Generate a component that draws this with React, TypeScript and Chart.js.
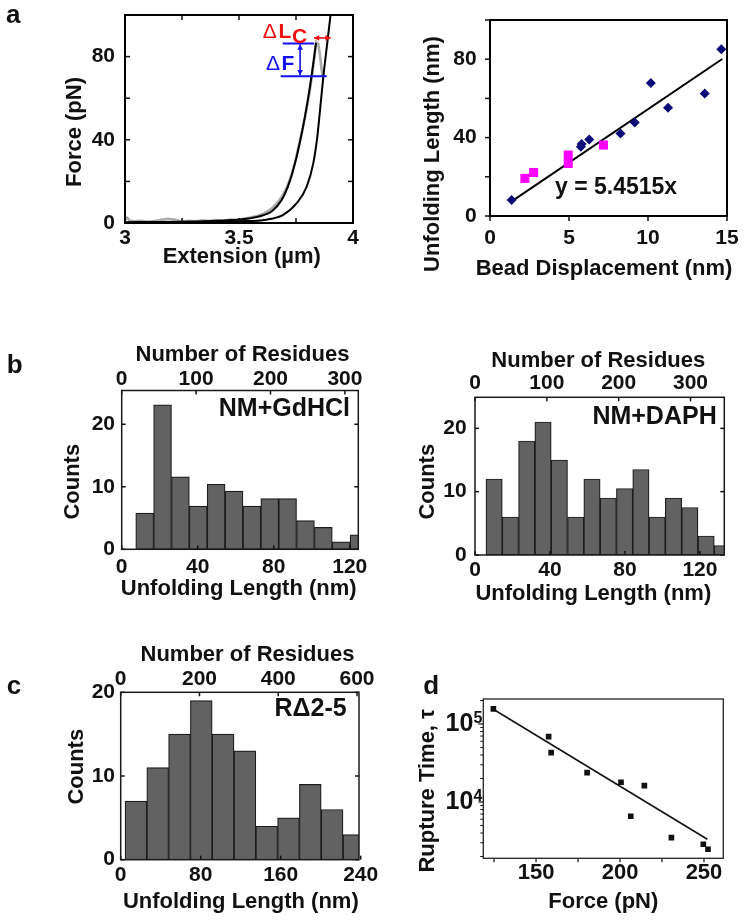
import React, { useEffect, useRef } from 'react';
import { Chart, registerables } from 'chart.js';

Chart.register(...registerables);

const FAMILY = '"Liberation Sans", Arial, Helvetica, sans-serif';
const INK = '#111111';

// ---------------- panel a (left): force vs extension ----------------
const extensionTicks = [3, 3.5, 4];
const extensionMarks = [3, 3.25, 3.5, 3.75, 4];
const forceTicks = [0, 40, 80];
const forceMarks = [0, 20, 40, 60, 80, 100];
const traceExt = [3.0, 3.01, 3.02, 3.04, 3.07, 3.1, 3.13, 3.16, 3.19, 3.22, 3.25, 3.28, 3.31, 3.34, 3.37, 3.4, 3.43, 3.46, 3.49, 3.52, 3.55, 3.58, 3.61, 3.63, 3.65, 3.67, 3.69, 3.71, 3.73, 3.75, 3.77, 3.79, 3.81, 3.825, 3.838, 3.848, 3.856, 3.862, 3.868];
const traceForce = [1.8, 2.5, 1.2, 0.8, 1.0, 0.6, 0.9, 1.6, 2.0, 1.5, 0.7, 1.1, 0.8, 1.3, 0.9, 1.4, 1.0, 1.6, 1.2, 2.0, 2.6, 3.4, 4.6, 6.0, 7.5, 10, 13, 17, 23, 31, 41, 51, 63, 75, 87, 86, 80, 74, 70.5];
const wlcShortExt = [3.0, 3.2, 3.35, 3.45, 3.55, 3.6, 3.643, 3.687, 3.724, 3.753, 3.776, 3.8, 3.82, 3.838];
const wlcShortForce = [0.4, 0.5, 0.8, 1.3, 2.3, 3.5, 5.5, 11, 20.5, 32, 43.5, 58, 72, 86.6];
const wlcLongExt = [3.0, 3.2, 3.35, 3.5, 3.62, 3.694, 3.753, 3.797, 3.826, 3.843, 3.856, 3.87, 3.886, 3.902];
const wlcLongForce = [0.1, 0.2, 0.4, 0.8, 1.6, 3.9, 9.5, 17.5, 28.8, 41, 55, 70.5, 85.5, 100.5];
const deltaFLevels = [86.3, 70.5];
const deltaFTopSpan = [3.692, 3.829];
const deltaFBottomSpan = [3.683, 3.885];
const deltaFArrowExt = 3.768;
const deltaLcSpan = [3.829, 3.902];
const deltaLcForce = 89;

// ---------------- panel a (right): unfolding length vs bead displacement ----------------
const dispTicks = [0, 5, 10, 15];
const lengthTicks = [0, 40, 80];
const lengthMarks = [0, 20, 40, 60, 80, 100];
const navyDisp = [1.37, 5.75, 5.8, 6.28, 8.26, 9.16, 10.18, 11.27, 13.59, 14.64];
const navyLength = [8.2, 35.3, 36.7, 39, 42.1, 47.7, 67.9, 55.2, 62.5, 85.1];
const pinkDisp = [2.21, 2.76, 4.95, 4.95, 7.18];
const pinkLength = [19.2, 22.2, 31.1, 26.8, 36.2];
const fitDisp = [1.3, 14.7];
const fitLength = [7.1, 80.1];

// ---------------- panel b: histograms ----------------
const nmTicksB = [0, 40, 80, 120];
const residueTicksB = [0, 100, 200, 300];
const countTicksB = [0, 10, 20];
const gdhclCenters = [12.1, 21.5, 30.9, 40.3, 49.7, 59.1, 68.5, 77.9, 87.3, 96.7, 106.1, 115.5, 124.9];
const gdhclCounts = [5.8, 23.1, 11.6, 6.9, 10.4, 9.3, 6.9, 8.1, 8.1, 4.6, 3.5, 1.2, 2.3];
const daphCenters = [10.2, 18.9, 27.6, 36.3, 45.0, 53.7, 62.4, 71.1, 79.8, 88.5, 97.2, 105.9, 114.6, 123.3, 132.0];
const daphCounts = [12, 6, 18, 21, 15, 6, 12, 9, 10.5, 13.5, 6, 9, 7.5, 3, 1.5];

// ---------------- panel c: histogram ----------------
const nmTicksC = [0, 80, 160, 240];
const residueTicksC = [0, 200, 400, 600];
const countTicksC = [0, 10, 20];
const rdCenters = [15.2, 37, 58.8, 80.6, 102.4, 124.2, 146, 167.8, 189.6, 211.4, 233.2];
const rdCounts = [7, 11, 15, 19, 15, 13, 4, 5, 9, 6, 3];

// ---------------- panel d: rupture time vs force ----------------
const forceTicksD = [150, 200, 250];
const forceMarksD = [125, 150, 175, 200, 225, 250];
const tauTicks = [1e4, 1e5];
const tauExponents = ['4', '5'];
const tauMinor = [2e3, 3e3, 4e3, 5e3, 6e3, 7e3, 8e3, 9e3, 2e4, 3e4, 4e4, 5e4, 6e4, 7e4, 8e4, 9e4, 2e5];
const ruptureForce = [124.6, 157.5, 159, 180.4, 200.6, 214.5, 206.4, 230.6, 249.6, 252.4];
const ruptureTime = [1.56e5, 6.87e4, 4.29e4, 2.38e4, 1.79e4, 1.62e4, 6.56e3, 3.49e3, 2.87e3, 2.48e3];
const fitForceD = [125.3, 252];
const fitTimeD = [1.51e5, 3.33e3];

// ---------------- helpers ----------------
type Rect = [number, number, number, number];
const bold = (s: number) => `bold ${s}px ${FAMILY}`;
const plain = (s: number) => `${s}px ${FAMILY}`;
const pts = (xs: number[], ys: number[]) => xs.map((x, i) => ({ x, y: ys[i] }));

function pads(c: Rect, p: Rect) {
  return { l: p[0] - c[0], t: p[1] - c[1], r: c[2] - p[2], b: c[3] - p[3] };
}

function axis(o: any) {
  const horizontal = o.position === 'top' || o.position === 'bottom';
  return {
    type: o.type || 'linear',
    position: o.position,
    min: o.min,
    max: o.max,
    bounds: 'data',
    offset: false,
    grid: { display: false, drawTicks: false },
    border: { display: false },
    ticks: {
      display: o.labels !== false,
      padding: o.pad ?? 4,
      color: INK,
      font: { family: FAMILY, size: o.size ?? 21, weight: 'bold', lineHeight: 1 },
      maxRotation: 0,
      minRotation: 0,
      autoSkip: false,
      callback: (v: number) => String(v),
    },
    afterBuildTicks: (s: any) => {
      s.ticks = o.ticks.map((v: number) => ({ value: v }));
    },
    afterFit: (s: any) => {
      if (horizontal) s.height = o.thickness;
      else s.width = o.thickness;
      s.paddingLeft = 0;
      s.paddingRight = 0;
      s.paddingTop = 0;
      s.paddingBottom = 0;
    },
  };
}

function base(p: any, topPad: number) {
  return {
    responsive: false,
    animation: false,
    devicePixelRatio: 1,
    events: [],
    layout: { padding: { left: 0, top: topPad, right: p.r, bottom: 0 } },
    plugins: { legend: { display: false }, tooltip: { enabled: false } },
  };
}

function lineSet(xs: number[], ys: number[], color: string, width: number, smooth = true) {
  return {
    data: pts(xs, ys),
    showLine: true,
    borderColor: color,
    backgroundColor: color,
    borderWidth: width,
    pointRadius: 0,
    fill: false,
    tension: 0,
    cubicInterpolationMode: smooth ? 'monotone' : 'default',
  };
}

function barSet(centers: number[], counts: number[]) {
  return {
    data: pts(centers, counts),
    backgroundColor: '#626262',
    borderColor: '#1c1c1c',
    borderWidth: 1.2,
    borderSkipped: false,
    barPercentage: 1,
    categoryPercentage: 1,
    clip: 0,
  };
}

function arrowHead(ctx: CanvasRenderingContext2D, x: number, y: number, ang: number, size: number) {
  ctx.beginPath();
  ctx.moveTo(x, y);
  ctx.lineTo(x - size * Math.cos(ang - 0.5), y - size * Math.sin(ang - 0.5));
  ctx.lineTo(x - size * Math.cos(ang + 0.5), y - size * Math.sin(ang + 0.5));
  ctx.closePath();
  ctx.fill();
}

function doubleArrow(ctx: CanvasRenderingContext2D, x1: number, y1: number, x2: number, y2: number, size: number) {
  ctx.beginPath();
  ctx.moveTo(x1, y1);
  ctx.lineTo(x2, y2);
  ctx.stroke();
  const ang = Math.atan2(y2 - y1, x2 - x1);
  arrowHead(ctx, x2, y2, ang, size);
  arrowHead(ctx, x1, y1, ang + Math.PI, size);
}

function deco(canvas: Rect, spec: any) {
  const ox = canvas[0];
  const oy = canvas[1];
  return {
    id: 'deco',
    afterDatasetsDraw(chart: any) {
      const ctx: CanvasRenderingContext2D = chart.ctx;
      const a = chart.chartArea;
      ctx.save();
      (spec.ticks || []).forEach((t: any) => {
        const s = chart.scales[t.scale];
        ctx.strokeStyle = t.color || '#111';
        ctx.lineWidth = t.width || 1.5;
        const dir = t.out ? -1 : 1;
        t.values.forEach((v: number) => {
          const p = s.getPixelForValue(v);
          t.sides.forEach((side: string) => {
            ctx.beginPath();
            if (side === 'bottom') { ctx.moveTo(p, a.bottom); ctx.lineTo(p, a.bottom - dir * t.len); }
            if (side === 'top') { ctx.moveTo(p, a.top); ctx.lineTo(p, a.top + dir * t.len); }
            if (side === 'left') { ctx.moveTo(a.left, p); ctx.lineTo(a.left + dir * t.len, p); }
            if (side === 'right') { ctx.moveTo(a.right, p); ctx.lineTo(a.right - dir * t.len, p); }
            ctx.stroke();
          });
        });
      });
      if (spec.frame) {
        ctx.strokeStyle = spec.frame.color;
        ctx.lineWidth = spec.frame.width;
        ctx.strokeRect(a.left, a.top, a.right - a.left, a.bottom - a.top);
      }
      if (spec.extra) spec.extra(chart, ctx, ox, oy);
      ctx.restore();
    },
    afterDraw(chart: any) {
      const ctx: CanvasRenderingContext2D = chart.ctx;
      (spec.texts || []).forEach((t: any) => {
        ctx.save();
        ctx.font = t.font;
        ctx.fillStyle = t.color || INK;
        ctx.textAlign = t.align || 'center';
        ctx.textBaseline = t.baseline || 'middle';
        ctx.translate(t.x - ox, t.y - oy);
        if (t.rot) ctx.rotate(t.rot);
        ctx.fillText(t.text, 0, 0);
        ctx.restore();
      });
    },
  };
}

const VERT = -Math.PI / 2;
const RED = '#f01010';
const BLUE = '#1010f0';

// ---------------- panels ----------------
const a1Canvas: Rect = [0, 0, 400, 300];
const a1Plot: Rect = [125, 15, 353, 223];
function panelA1() {
  const p = pads(a1Canvas, a1Plot);
  return {
    type: 'scatter',
    data: {
      datasets: [
        lineSet(wlcShortExt, wlcShortForce, '#000', 2),
        lineSet(wlcLongExt, wlcLongForce, '#000', 2),
        lineSet(traceExt, traceForce, '#ababab', 2.6, false),
      ],
    },
    options: {
      ...base(p, p.t),
      scales: {
        x: axis({ position: 'bottom', min: 3, max: 4, ticks: extensionTicks, thickness: p.b, pad: 4.5 }),
        y: axis({ position: 'left', min: 0, max: 100, ticks: forceTicks, thickness: p.l, pad: 10 }),
      },
    },
    plugins: [
      deco(a1Canvas, {
        frame: { width: 2, color: '#000' },
        ticks: [
          { scale: 'y', values: forceMarks, sides: ['left', 'right'], len: 5 },
          { scale: 'x', values: extensionMarks, sides: ['bottom', 'top'], len: 5 },
        ],
        texts: [
          { text: 'a', x: 6, y: 22.7, font: bold(26), align: 'left', baseline: 'alphabetic' },
          { text: 'Force (pN)', x: 75, y: 132, font: bold(22), rot: VERT },
          { text: 'Extension (\u00b5m)', x: 241.7, y: 256.7, font: bold(22) },
          { text: '\u0394', x: 262.7, y: 38.3, font: plain(21), color: RED, align: 'left', baseline: 'alphabetic' },
          { text: 'L', x: 278.5, y: 38.3, font: bold(21), color: RED, align: 'left', baseline: 'alphabetic' },
          { text: 'C', x: 292, y: 42.5, font: bold(21), color: RED, align: 'left', baseline: 'alphabetic' },
          { text: '\u0394', x: 266, y: 70, font: plain(21), color: BLUE, align: 'left', baseline: 'alphabetic' },
          { text: 'F', x: 281.5, y: 70, font: bold(21), color: BLUE, align: 'left', baseline: 'alphabetic' },
        ],
        extra: (chart: any, ctx: CanvasRenderingContext2D) => {
          const X = (v: number) => chart.scales.x.getPixelForValue(v);
          const Y = (v: number) => chart.scales.y.getPixelForValue(v);
          ctx.strokeStyle = BLUE;
          ctx.fillStyle = BLUE;
          ctx.lineWidth = 2;
          ctx.beginPath();
          ctx.moveTo(X(deltaFTopSpan[0]), Y(deltaFLevels[0]));
          ctx.lineTo(X(deltaFTopSpan[1]), Y(deltaFLevels[0]));
          ctx.moveTo(X(deltaFBottomSpan[0]), Y(deltaFLevels[1]));
          ctx.lineTo(X(deltaFBottomSpan[1]), Y(deltaFLevels[1]));
          ctx.stroke();
          ctx.lineWidth = 1.6;
          doubleArrow(ctx, X(deltaFArrowExt), Y(deltaFLevels[0]) + 1, X(deltaFArrowExt), Y(deltaFLevels[1]) - 1, 6);
          ctx.strokeStyle = RED;
          ctx.fillStyle = RED;
          ctx.lineWidth = 1.6;
          doubleArrow(ctx, X(deltaLcSpan[0]), Y(deltaLcForce), X(deltaLcSpan[1]), Y(deltaLcForce), 6);
        },
      }),
    ],
  };
}

const a2Canvas: Rect = [360, 0, 751, 300];
const a2Plot: Rect = [490, 20, 727, 216];
function panelA2() {
  const p = pads(a2Canvas, a2Plot);
  return {
    type: 'scatter',
    data: {
      datasets: [
        { data: pts(navyDisp, navyLength), pointStyle: 'rectRot', pointRadius: 5, backgroundColor: '#0a0a78', borderColor: '#0a0a78', borderWidth: 0 },
        { data: pts(pinkDisp, pinkLength), pointStyle: 'rect', pointRadius: 6.4, backgroundColor: '#ff00ff', borderColor: '#ff00ff', borderWidth: 0 },
        lineSet(fitDisp, fitLength, '#000', 2, false),
      ],
    },
    options: {
      ...base(p, p.t),
      scales: {
        x: axis({ position: 'bottom', min: 0, max: 15, ticks: dispTicks, thickness: p.b, pad: 11.5 }),
        y: axis({ position: 'left', min: 0, max: 100, ticks: lengthTicks, thickness: p.l, pad: 13.3 }),
      },
    },
    plugins: [
      deco(a2Canvas, {
        frame: { width: 2, color: '#000' },
        ticks: [
          { scale: 'y', values: lengthMarks, sides: ['left'], len: 5, out: true },
          { scale: 'x', values: dispTicks, sides: ['bottom'], len: 5, out: true },
        ],
        texts: [
          { text: 'Unfolding Length (nm)', x: 433.3, y: 154, font: bold(22), rot: VERT },
          { text: 'Bead Displacement (nm)', x: 604, y: 269, font: bold(22) },
          { text: 'y = 5.4515x', x: 555, y: 188, font: bold(23), align: 'left' },
        ],
      }),
    ],
  };
}

function histPanel(canvas: Rect, plot: Rect, o: any) {
  const p = pads(canvas, plot);
  return {
    type: 'bar',
    data: { datasets: [barSet(o.centers, o.counts)] },
    options: {
      ...base(p, 0),
      scales: {
        x: axis({ position: 'bottom', min: 0, max: o.nmMax, ticks: o.nmTicks, thickness: p.b, pad: o.padBottom }),
        x2: axis({ position: 'top', min: 0, max: o.resMax, ticks: o.resTicks, thickness: p.t, pad: o.padTop }),
        y: axis({ position: 'left', min: 0, max: o.countMax, ticks: o.countTicks, thickness: p.l, pad: o.padLeft }),
      },
    },
    plugins: [
      deco(canvas, {
        frame: { width: 1.5, color: '#1a1a1a' },
        ticks: [
          { scale: 'y', values: o.countTicks, sides: ['left', 'right'], len: 4 },
          { scale: 'x', values: o.nmTicks, sides: ['bottom'], len: 4 },
          { scale: 'x2', values: o.resTicks, sides: ['top'], len: 4 },
        ],
        texts: o.texts,
      }),
    ],
  };
}

const b1Canvas: Rect = [0, 300, 400, 610];
const b1Plot: Rect = [121.7, 390.5, 358.3, 549.3];
function panelB1() {
  return histPanel(b1Canvas, b1Plot, {
    centers: gdhclCenters, counts: gdhclCounts,
    nmMax: 124.5, nmTicks: nmTicksB, resMax: 318, resTicks: residueTicksB,
    countMax: 25.4, countTicks: countTicksB,
    padBottom: 7.7, padTop: 0.5, padLeft: 6.7,
    texts: [
      { text: 'b', x: 6.7, y: 372.7, font: bold(26), align: 'left', baseline: 'alphabetic' },
      { text: 'Number of Residues', x: 242.5, y: 355, font: bold(22) },
      { text: 'Counts', x: 73, y: 481.7, font: bold(22), rot: VERT },
      { text: 'Unfolding Length (nm)', x: 238.7, y: 589, font: bold(22) },
      { text: 'NM+GdHCl', x: 350, y: 409, font: bold(25), align: 'right' },
    ],
  });
}

const b2Canvas: Rect = [360, 300, 751, 610];
const b2Plot: Rect = [475, 397.3, 724.3, 555];
function panelB2() {
  return histPanel(b2Canvas, b2Plot, {
    centers: daphCenters, counts: daphCounts,
    nmMax: 133, nmTicks: nmTicksB, resMax: 347, resTicks: residueTicksB,
    countMax: 24.9, countTicks: countTicksB,
    padBottom: 4.5, padTop: 3.5, padLeft: 8.3,
    texts: [
      { text: 'Number of Residues', x: 598.3, y: 361, font: bold(22) },
      { text: 'Counts', x: 428.3, y: 481.7, font: bold(22), rot: VERT },
      { text: 'Unfolding Length (nm)', x: 593.3, y: 594, font: bold(22) },
      { text: 'NM+DAPH', x: 716.7, y: 417.5, font: bold(25), align: 'right' },
    ],
  });
}

const cCanvas: Rect = [0, 610, 400, 920];
const cPlot: Rect = [120.7, 692.3, 359, 859.7];
function panelC() {
  return histPanel(cCanvas, cPlot, {
    centers: rdCenters, counts: rdCounts,
    nmMax: 238.3, nmTicks: nmTicksC, resMax: 605, resTicks: residueTicksC,
    countMax: 20, countTicks: countTicksC,
    padBottom: 4.8, padTop: 2.3, padLeft: 5.7,
    texts: [
      { text: 'c', x: 6.7, y: 694, font: bold(26), align: 'left', baseline: 'alphabetic' },
      { text: 'Number of Residues', x: 247.5, y: 655.3, font: bold(22) },
      { text: 'Counts', x: 76.7, y: 766.7, font: bold(22), rot: VERT },
      { text: 'Unfolding Length (nm)', x: 240.8, y: 902, font: bold(22) },
      { text: 'R\u03942-5', x: 346.7, y: 709, font: bold(25), align: 'right' },
    ],
  });
}

const dCanvas: Rect = [360, 610, 751, 920];
const dPlot: Rect = [483.3, 699, 723.3, 858.3];
function panelD() {
  const p = pads(dCanvas, dPlot);
  return {
    type: 'scatter',
    data: {
      datasets: [
        { data: pts(ruptureForce, ruptureTime), pointStyle: 'rect', pointRadius: 4, backgroundColor: '#111', borderColor: '#111', borderWidth: 0 },
        lineSet(fitForceD, fitTimeD, '#111', 1.5, false),
      ],
    },
    options: {
      ...base(p, p.t),
      scales: {
        x: axis({ position: 'bottom', min: 118.6, max: 261.5, ticks: forceTicksD, thickness: p.b, pad: 4, size: 22 }),
        y: axis({ type: 'logarithmic', position: 'left', min: 1897, max: 2.09e5, ticks: tauTicks, thickness: p.l, labels: false }),
      },
    },
    plugins: [
      deco(dCanvas, {
        frame: { width: 1.3, color: '#222' },
        ticks: [
          { scale: 'x', values: forceMarksD, sides: ['bottom'], len: 4, out: true, width: 1.2 },
          { scale: 'y', values: tauTicks, sides: ['left'], len: 5, out: true, width: 1.2 },
          { scale: 'y', values: tauMinor, sides: ['left'], len: 3, out: true, width: 1 },
        ],
        texts: [
          { text: 'd', x: 423.3, y: 694, font: bold(26), align: 'left', baseline: 'alphabetic' },
          { text: 'Rupture Time, \u03c4', x: 427.5, y: 790.8, font: bold(22), rot: VERT },
          { text: 'Force (pN)', x: 603.3, y: 901.7, font: bold(22) },
        ],
        extra: (chart: any, ctx: CanvasRenderingContext2D, ox: number) => {
          const ys = chart.scales.y;
          tauTicks.forEach((v, i) => {
            const py = ys.getPixelForValue(v);
            ctx.fillStyle = INK;
            ctx.font = bold(25);
            ctx.textAlign = 'right';
            ctx.textBaseline = 'middle';
            ctx.fillText('10', 473.3 - ox, py);
            ctx.font = bold(16);
            ctx.textAlign = 'left';
            ctx.fillText(tauExponents[i], 473.5 - ox, py - 5.5);
          });
        },
      }),
    ],
  };
}

const panels: { rect: Rect; make: () => any }[] = [
  { rect: a1Canvas, make: panelA1 },
  { rect: a2Canvas, make: panelA2 },
  { rect: b1Canvas, make: panelB1 },
  { rect: b2Canvas, make: panelB2 },
  { rect: cCanvas, make: panelC },
  { rect: dCanvas, make: panelD },
];

function ChartCanvas({ rect, make }: { rect: Rect; make: () => any }) {
  const ref = useRef<HTMLCanvasElement>(null);
  useEffect(() => {
    const chart = new Chart(ref.current as HTMLCanvasElement, make());
    return () => chart.destroy();
  }, []);
  const w = rect[2] - rect[0];
  const h = rect[3] - rect[1];
  return (
    <canvas
      ref={ref}
      width={w}
      height={h}
      style={{ position: 'absolute', left: rect[0], top: rect[1], width: w, height: h }}
    />
  );
}

export default function App() {
  return (
    <div style={{ position: 'absolute', left: 0, top: 0, width: 751, height: 920, background: '#fff', overflow: 'hidden' }}>
      {panels.map((p, i) => (
        <ChartCanvas key={i} rect={p.rect} make={p.make} />
      ))}
    </div>
  );
}
